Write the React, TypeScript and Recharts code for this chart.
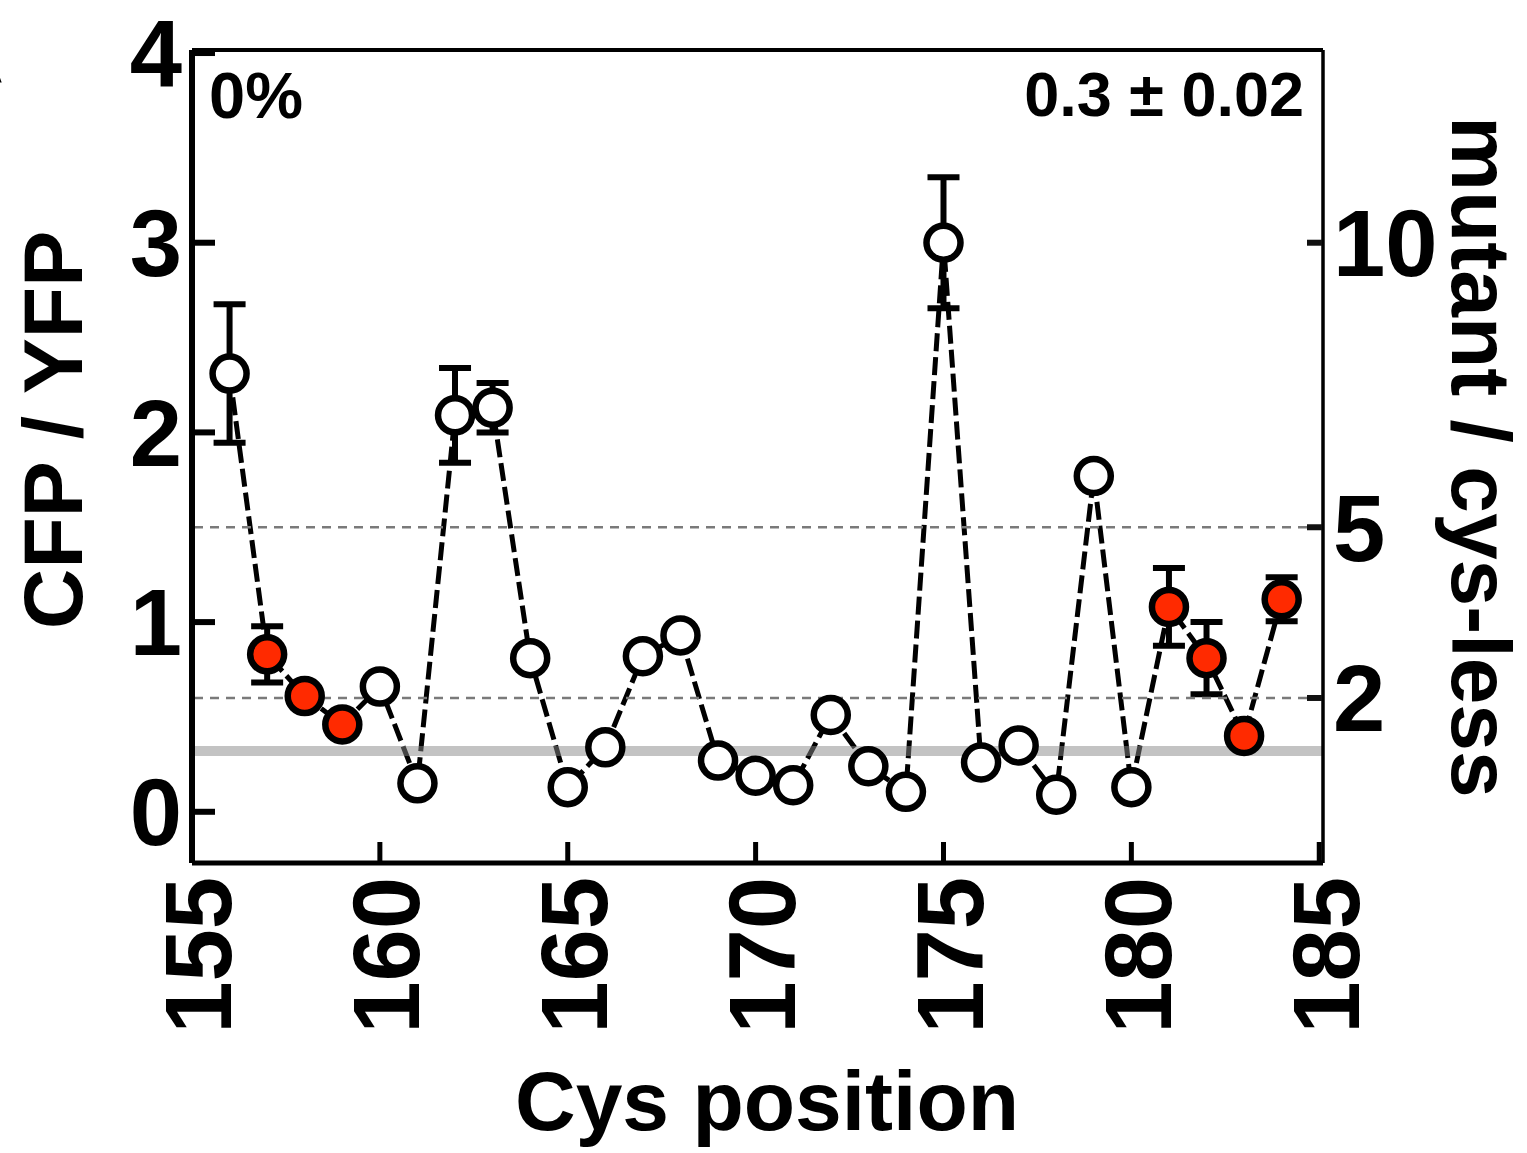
import React from 'react';
import { LineChart, Line, XAxis, YAxis, ReferenceLine, ErrorBar } from 'recharts';

const positions = [156, 157, 158, 159, 160, 161, 162, 163, 164, 165, 166, 167, 168, 169, 170, 171, 172, 173, 174, 175, 176, 177, 178, 179, 180, 181, 182, 183, 184];
const cfpYfp = [2.31, 0.83, 0.61, 0.46, 0.66, 0.15, 2.09, 2.13, 0.81, 0.13, 0.34, 0.82, 0.93, 0.27, 0.19, 0.14, 0.51, 0.24, 0.105, 3.0, 0.26, 0.35, 0.09, 1.77, 0.13, 1.08, 0.81, 0.4, 1.12];
const sem = [0.365, 0.148, null, null, null, null, 0.25, 0.13, null, null, null, null, null, null, null, null, null, null, null, 0.345, null, null, null, null, null, 0.205, 0.19, null, 0.116];
const redPositions = [157, 158, 159, 181, 182, 183, 184];
const xTicks = [155, 160, 165, 170, 175, 180, 185];
const leftTicks = [0, 1, 2, 3, 4];
const rightTicks = [2, 5, 10];
const thresholds = [5, 2];
const cysLessRatio = 0.3;
const grayBand = 0.32;

const X_DOMAIN = [155, 185.1];
const Y_DOMAIN = [-0.27, 4.016];
const FONT = "'Liberation Sans', Arial, Helvetica, sans-serif";

const data = positions.map((p, i) => ({
  pos: p,
  ratio: cfpYfp[i],
  err: sem[i],
  red: redPositions.includes(p),
}));

const LeftTick = (props: any) => {
  const { x, y, payload } = props;
  const axisX = x + 10;
  return (
    <g>
      <line x1={axisX} x2={axisX + 23} y1={y} y2={y} stroke="#000" strokeWidth={6} />
      <text x={x} y={y} dy="0.355em" textAnchor="end" fontFamily={FONT} fontWeight={700} fontSize={94} fill="#000">
        {payload.value}
      </text>
    </g>
  );
};

const RightTick = (props: any) => {
  const { x, y, payload } = props;
  const axisX = x - 10;
  return (
    <g>
      <line x1={axisX - 16} x2={axisX - 1} y1={y} y2={y} stroke="#111" strokeWidth={6} />
      <text x={x} y={y} dy="0.355em" textAnchor="start" fontFamily={FONT} fontWeight={700} fontSize={94} fill="#000">
        {payload.value}
      </text>
    </g>
  );
};

const BottomTick = (props: any) => {
  const { x, y, payload } = props;
  const axisY = y - 14;
  return (
    <g>
      <line x1={x} x2={x} y1={axisY} y2={axisY - 21} stroke="#000" strokeWidth={5} />
      <text
        transform={`translate(${x + 6},${y}) rotate(-90)`}
        dy="0.355em"
        textAnchor="end"
        fontFamily={FONT}
        fontWeight={700}
        fontSize={94}
        fill="#000"
      >
        {payload.value}
      </text>
    </g>
  );
};

const renderDot = (props: any) => {
  const { cx, cy, payload, index } = props;
  return (
    <circle
      key={`dot-${index}`}
      cx={cx}
      cy={cy}
      r={17}
      fill={payload.red ? '#ff2a00' : '#ffffff'}
      stroke="#000"
      strokeWidth={6.5}
    />
  );
};

export default function App() {
  return (
    <div style={{ position: 'absolute', left: 0, top: 0, width: 1527, height: 1153, background: '#fff' }}>
      <LineChart width={1527} height={1153} data={data} margin={{ top: 0, right: 0, bottom: 0, left: 0 }}>
        <XAxis
          xAxisId="bottom"
          dataKey="pos"
          type="number"
          domain={X_DOMAIN}
          ticks={xTicks}
          interval={0}
          height={290}
          tickSize={0}
          tickMargin={14}
          tick={<BottomTick />}
          tickLine={false}
          axisLine={{ stroke: '#000', strokeWidth: 5 }}
          allowDataOverflow
        />
        <XAxis
          xAxisId="top"
          orientation="top"
          dataKey="pos"
          type="number"
          domain={X_DOMAIN}
          height={50}
          tick={false}
          tickLine={false}
          axisLine={{ stroke: '#000', strokeWidth: 4 }}
          allowDataOverflow
        />
        <YAxis
          yAxisId="left"
          type="number"
          domain={Y_DOMAIN}
          ticks={leftTicks}
          interval={0}
          width={192}
          tickSize={0}
          tickMargin={10}
          tick={<LeftTick />}
          tickLine={false}
          axisLine={{ stroke: '#000', strokeWidth: 6 }}
          allowDataOverflow
        />
        <YAxis
          yAxisId="right"
          orientation="right"
          type="number"
          domain={[Y_DOMAIN[0] / cysLessRatio, Y_DOMAIN[1] / cysLessRatio]}
          ticks={rightTicks}
          interval={0}
          width={204}
          tickSize={0}
          tickMargin={10}
          tick={<RightTick />}
          tickLine={false}
          axisLine={{ stroke: '#000', strokeWidth: 3.5 }}
          allowDataOverflow
        />
        <Line
          xAxisId="bottom"
          yAxisId="left"
          type="linear"
          dataKey="ratio"
          stroke="#000"
          strokeWidth={5}
          strokeDasharray="18 6"
          dot={renderDot}
          activeDot={false}
          isAnimationActive={false}
        >
          <ErrorBar dataKey="err" width={16} strokeWidth={6} stroke="#000" direction="y" isAnimationActive={false} />
        </Line>
        {thresholds.map((t) => (
          <ReferenceLine
            key={`th-${t}`}
            xAxisId="bottom"
            yAxisId="right"
            y={t}
            stroke="#7a7a7a"
            strokeWidth={2.5}
            strokeDasharray="9 7"
            zIndex={450}
          />
        ))}
        <ReferenceLine
          xAxisId="bottom"
          yAxisId="left"
          y={grayBand}
          stroke="#888888"
          strokeOpacity={0.5}
          strokeWidth={10}
          zIndex={450}
        />
      </LineChart>
      <svg
        width={1527}
        height={1153}
        style={{ position: 'absolute', left: 0, top: 0, pointerEvents: 'none' }}
        fontFamily={FONT}
        fontWeight={700}
        fill="#000"
      >
        <text x={4} y={83} textAnchor="end" fontSize={84}>A</text>
        <text x={209} y={118} fontSize={65}>0%</text>
        <text x={1304} y={116} textAnchor="end" fontSize={63}>0.3 ± 0.02</text>
        <text transform="translate(82,430) rotate(-90)" textAnchor="middle" fontSize={84}>CFP / YFP</text>
        <text transform="translate(1452,457) rotate(90)" textAnchor="middle" fontSize={84}>mutant / cys-less</text>
        <text x={767} y={1130} textAnchor="middle" fontSize={84}>Cys position</text>
      </svg>
    </div>
  );
}
